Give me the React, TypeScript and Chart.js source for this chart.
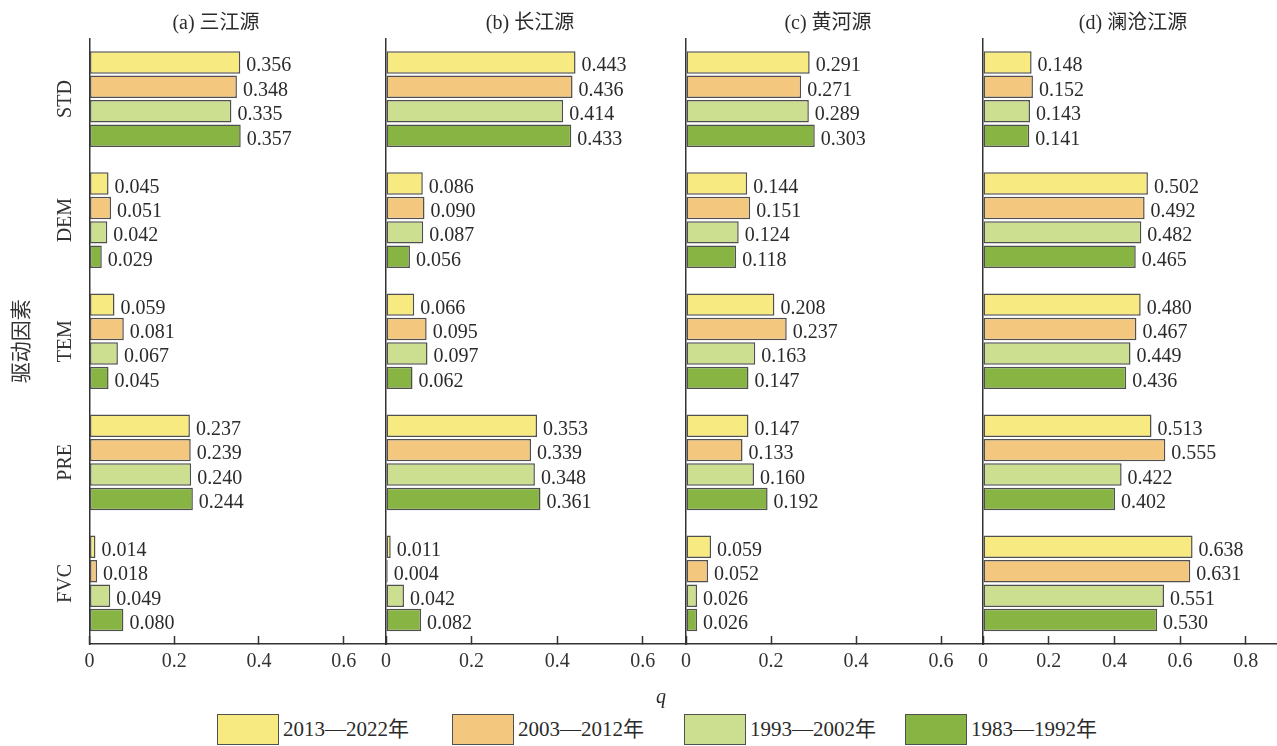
import React, { useEffect, useRef } from 'react';
import { Chart, registerables } from 'chart.js';

Chart.register(...registerables);

// ---------- data ----------
const categories = ['STD', 'DEM', 'TEM', 'PRE', 'FVC'];
const seriesLabels = ['2013—2022年', '2003—2012年', '1993—2002年', '1983—1992年'];
const panelTitles = ['(a) 三江源', '(b) 长江源', '(c) 黄河源', '(d) 澜沧江源'];
const xTickStep = 0.2;

// (a) 三江源
const sjy2013 = [0.356, 0.045, 0.059, 0.237, 0.014];
const sjy2003 = [0.348, 0.051, 0.081, 0.239, 0.018];
const sjy1993 = [0.335, 0.042, 0.067, 0.240, 0.049];
const sjy1983 = [0.357, 0.029, 0.045, 0.244, 0.080];
// (b) 长江源
const cjy2013 = [0.443, 0.086, 0.066, 0.353, 0.011];
const cjy2003 = [0.436, 0.090, 0.095, 0.339, 0.004];
const cjy1993 = [0.414, 0.087, 0.097, 0.348, 0.042];
const cjy1983 = [0.433, 0.056, 0.062, 0.361, 0.082];
// (c) 黄河源
const hhy2013 = [0.291, 0.144, 0.208, 0.147, 0.059];
const hhy2003 = [0.271, 0.151, 0.237, 0.133, 0.052];
const hhy1993 = [0.289, 0.124, 0.163, 0.160, 0.026];
const hhy1983 = [0.303, 0.118, 0.147, 0.192, 0.026];
// (d) 澜沧江源
const lcy2013 = [0.148, 0.502, 0.480, 0.513, 0.638];
const lcy2003 = [0.152, 0.492, 0.467, 0.555, 0.631];
const lcy1993 = [0.143, 0.482, 0.449, 0.422, 0.551];
const lcy1983 = [0.141, 0.465, 0.436, 0.402, 0.530];

const panelSeries = [
  [sjy2013, sjy2003, sjy1993, sjy1983],
  [cjy2013, cjy2003, cjy1993, cjy1983],
  [hhy2013, hhy2003, hhy1993, hhy1983],
  [lcy2013, lcy2003, lcy1993, lcy1983],
];
const panelMax = [0.7, 0.7, 0.7, 0.895];

// ---------- styles ----------
const FONT = "'Liberation Serif', 'Noto Sans CJK SC', serif";
const seriesColors = ['#F7EA80', '#F3C87E', '#CCDF90', '#88B443'];
const BORDER = '#505050';
const AXIS = '#333333';
const TEXT = '#2b2b2b';

// layout (pixels)
const plotBounds: [number, number][] = [
  [89.5, 386],
  [386, 685.5],
  [685.5, 983],
  [983, 1277],
];
const titleCenters = [216, 530, 828, 1133];
const PLOT_TOP = 38.5;
const CANVAS_H = 684;
const XAXIS_H = 40;

const valueLabelPlugin = {
  id: 'valueLabels',
  afterDatasetsDraw(chart: any) {
    const ctx = chart.ctx;
    ctx.save();
    ctx.font = `20px ${FONT}`;
    ctx.fillStyle = TEXT;
    ctx.textAlign = 'left';
    ctx.textBaseline = 'alphabetic';
    chart.data.datasets.forEach((ds: any, di: number) => {
      const meta = chart.getDatasetMeta(di);
      meta.data.forEach((el: any, i: number) => {
        const v = ds.data[i] as number;
        ctx.fillText(v.toFixed(3), el.x + 6, el.y + 9);
      });
    });
    ctx.restore();
  },
};

function panelGeometry(i: number) {
  const [l, r] = plotBounds[i];
  const first = i === 0;
  const last = i === plotBounds.length - 1;
  const cLeft = first ? 0 : l - 20;
  const padL = first ? 0 : 20;
  const yWidth = first ? l : 0;
  const cW = last ? Math.ceil(r - cLeft) : Math.ceil(r - cLeft + 20);
  const padR = cW - (r - cLeft);
  return { cLeft, cW, padL, padR, yWidth };
}

export default function App() {
  const refs = [
    useRef<HTMLCanvasElement>(null),
    useRef<HTMLCanvasElement>(null),
    useRef<HTMLCanvasElement>(null),
    useRef<HTMLCanvasElement>(null),
  ];

  useEffect(() => {
    const charts: Chart[] = [];
    panelSeries.forEach((series, pi) => {
      const canvas = refs[pi].current;
      if (!canvas) return;
      const g = panelGeometry(pi);
      const showY = pi === 0;
      const chart = new Chart(canvas, {
        type: 'bar',
        data: {
          labels: categories,
          datasets: series.map((vals, k) => ({
            label: seriesLabels[k],
            data: vals,
            backgroundColor: seriesColors[k],
            borderColor: BORDER,
            borderWidth: 1.5,
            borderSkipped: false,
            categoryPercentage: 0.806,
            barPercentage: 0.92,
          })),
        },
        options: {
          indexAxis: 'y',
          responsive: false,
          maintainAspectRatio: false,
          animation: false,
          layout: { padding: { left: g.padL, right: g.padR, top: PLOT_TOP, bottom: 0 } },
          plugins: { legend: { display: false }, tooltip: { enabled: false }, title: { display: false } },
          scales: {
            x: {
              type: 'linear',
              position: 'bottom',
              min: 0,
              max: panelMax[pi],
              ticks: {
                stepSize: xTickStep,
                includeBounds: false,
                autoSkip: false,
                maxRotation: 0,
                padding: 14,
                color: AXIS,
                font: { family: FONT, size: 20 },
                callback: (v: any) => (Number(v) === 0 ? '0' : Number(v).toFixed(1)),
              },
              grid: {
                display: true,
                drawOnChartArea: false,
                drawTicks: true,
                tickLength: -8,
                tickColor: AXIS,
                tickWidth: 1.5,
              },
              border: { display: true, color: AXIS, width: 1.5 },
              afterFit: (s: any) => {
                s.height = XAXIS_H;
              },
            },
            y: {
              type: 'category',
              position: 'left',
              ticks: {
                display: showY,
                padding: 2,
                crossAlign: 'center',
                minRotation: 90,
                maxRotation: 90,
                color: AXIS,
                font: { family: FONT, size: 20 },
              },
              grid: { display: true, drawOnChartArea: false, drawTicks: false },
              border: { display: true, color: AXIS, width: 1.5 },
              title: {
                display: showY,
                text: '驱动因素',
                color: AXIS,
                font: { family: FONT, size: 21 },
                padding: { top: 10, bottom: 0 },
              },
              afterFit: (s: any) => {
                s.width = g.yWidth;
              },
            },
          },
        } as any,
        plugins: [valueLabelPlugin],
      });
      charts.push(chart);
    });
    return () => charts.forEach((c) => c.destroy());
  }, []);

  const legendLefts = [217, 452, 684, 905];

  return (
    <div
      style={{
        position: 'absolute',
        left: 0,
        top: 0,
        width: 1277,
        height: 746,
        background: '#ffffff',
        overflow: 'hidden',
        fontFamily: FONT,
        color: TEXT,
      }}
    >
      {panelSeries.map((_, pi) => {
        const g = panelGeometry(pi);
        return (
          <canvas
            key={pi}
            ref={refs[pi]}
            width={g.cW}
            height={CANVAS_H}
            style={{ position: 'absolute', left: g.cLeft, top: 0, width: g.cW, height: CANVAS_H }}
          />
        );
      })}
      {panelTitles.map((t, pi) => (
        <div
          key={t}
          style={{
            position: 'absolute',
            left: titleCenters[pi] - 100,
            width: 200,
            top: 10,
            lineHeight: '24px',
            fontSize: 20,
            textAlign: 'center',
            whiteSpace: 'nowrap',
          }}
        >
          {t}
        </div>
      ))}
      <div
        style={{
          position: 'absolute',
          left: 641,
          width: 40,
          top: 686,
          lineHeight: '20px',
          fontSize: 20,
          fontStyle: 'italic',
          textAlign: 'center',
        }}
      >
        q
      </div>
      {seriesLabels.map((lab, k) => (
        <div
          key={lab}
          style={{
            position: 'absolute',
            left: legendLefts[k],
            top: 713,
            height: 32,
            display: 'flex',
            alignItems: 'center',
            whiteSpace: 'nowrap',
          }}
        >
          <div
            style={{
              width: 60,
              height: 29,
              background: seriesColors[k],
              border: `1.5px solid ${BORDER}`,
            }}
          />
          <span style={{ marginLeft: 4, fontSize: 21, lineHeight: '32px' }}>{lab}</span>
        </div>
      ))}
    </div>
  );
}
